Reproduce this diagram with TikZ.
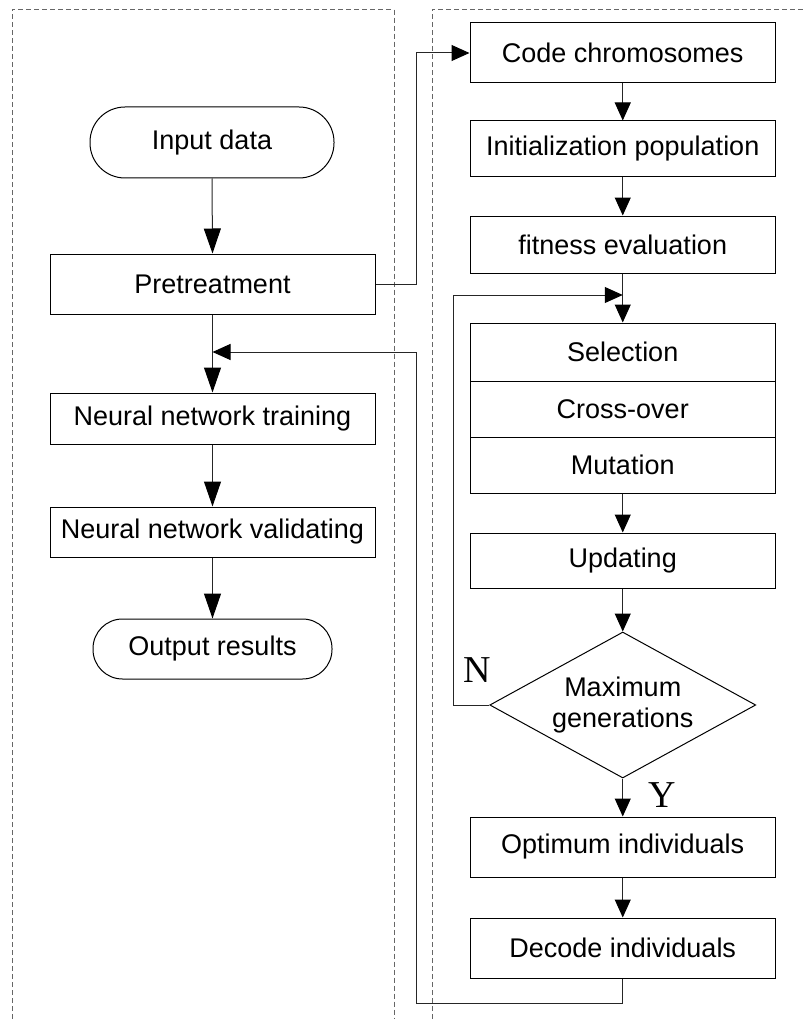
\documentclass[tikz,border=0pt]{standalone}
\usepackage{fontspec}
\setmainfont{Liberation Sans}
\newfontfamily\yntimes{Liberation Serif}
\usetikzlibrary{arrows.meta,shapes.geometric}
\begin{document}
\begin{tikzpicture}[x=1pt,y=-1pt,
  every node/.style={font=\fontsize{27}{31}\selectfont},
  box/.style={draw=black, line width=1pt, minimum width=#1, inner sep=0pt},
  lbox/.style={box=325pt},
  rbox/.style={box=305.5pt},
  term/.style={draw=black, line width=1pt, inner sep=0pt},
  decision/.style={draw=black, line width=1pt, shape=diamond, minimum width=266pt, minimum height=146pt, inner sep=0pt},
  conn/.style={draw=black!85, line width=1pt},
  arrL/.style={conn, -{Triangle[length=25pt,width=17pt,color=black]}},
  arrS/.style={conn, -{Triangle[length=18pt,width=16pt,color=black]}},
  panel/.style={draw=black!60, line width=1pt, dash pattern=on 5pt off 3pt},
  yn/.style={font=\yntimes\fontsize{38}{40}\selectfont}
]
\useasboundingbox (0,0) rectangle (805,1019);
% panels
\draw[panel] (12,1019) -- (12,9.3) -- (394,9.3) -- (394,1019);
\draw[panel] (432,1019) -- (432,9.3) -- (805,9.3);
% left column
\node[term, minimum width=244pt, minimum height=71pt, rounded corners=35pt] (inp) at (212,142.5) {Input data};
\node[lbox, minimum height=60pt] (pre) at (212.5,284) {Pretreatment};
\node[lbox, minimum height=51pt] (nnt) at (212.5,418.5) {Neural network training};
\node[lbox, minimum height=50pt] (nnv) at (212.5,532) {Neural network validating};
\node[term, minimum width=239pt, minimum height=60pt, rounded corners=29.5pt] (out) at (212.5,649) {Output results};
% right column
\node[rbox, minimum height=60pt] (code) at (622.75,53) {Code chromosomes};
\node[rbox, minimum height=56pt] (init) at (622.75,149) {Initialization population};
\node[rbox, minimum height=57pt] (fit) at (622.75,244.5) {fitness evaluation};
\node[rbox, minimum height=58pt] (sel) at (622.75,352) {Selection};
\node[rbox, minimum height=56pt] (cro) at (622.75,409) {Cross-over};
\node[rbox, minimum height=56pt] (mut) at (622.75,465) {Mutation};
\node[rbox, minimum height=55pt] (upd) at (622.75,560.5) {Updating};
\node[decision] (dec) at (622.75,705) {};
\node[align=center, inner sep=0pt] (dectext) at (dec.center) {Maximum\\generations};
\node[rbox, minimum height=60pt] (opt) at (622.75,847) {Optimum individuals};
\node[rbox, minimum height=60pt] (dcd) at (622.75,948) {Decode individuals};
% labels
\node[yn, inner sep=0pt] (nlab) at (477,670) {N};
\node[yn, inner sep=0pt] (ylab) at (662,795) {Y};
% helper coordinates
\coordinate (jx) at (416,0);
\coordinate (lx) at (453,0);
\coordinate (merge) at (622.75,295);
\coordinate (join) at (212.5,352);
\coordinate (rb) at (416,1003);
% left connectors
\draw[arrL] (inp.south) -- (pre.north);
\draw[arrL] (pre.south) -- (nnt.north);
\draw[arrL] (nnt.south) -- (nnv.north);
\draw[arrL] (nnv.south) -- (out.north);
% cross connector
\draw[arrS] (pre.east) -- (pre.east -| jx) |- (code.west);
% right connectors
\draw[arrS] (code.south) -- (init.north);
\draw[arrS] (init.south) -- (fit.north);
\draw[arrS] (fit.south) -- (sel.north);
\draw[arrS] (mut.south) -- (upd.north);
\draw[arrS] (upd.south) -- (dec.north);
\draw[arrS] (dec.south) -- (opt.north);
\draw[arrS] (opt.south) -- (dcd.north);
% loop back
\draw[arrS] (dec.west) -- (dec.west -| lx) |- (merge);
% return
\draw[arrS] (dcd.south) |- (rb) -- (rb |- join) -- (join);
\end{tikzpicture}
\end{document}
